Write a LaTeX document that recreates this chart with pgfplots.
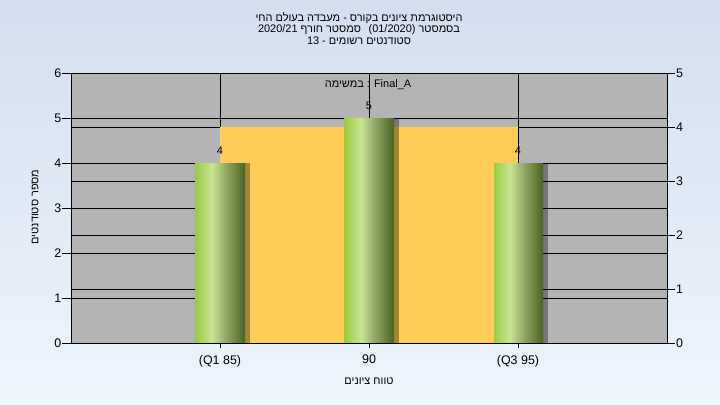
\documentclass[border=0pt]{standalone}
\usepackage{pgfplots}
\pgfplotsset{compat=1.18}
\usepackage{fontspec}
\setmainfont{Liberation Sans}
\newfontfamily\heb[Script=Hebrew]{Liberation Sans}
\TeXXeTstate=1
\definecolor{bgtop}{HTML}{D3DFF0}
\definecolor{bgbot}{HTML}{EEF5FD}
\definecolor{plotgray}{HTML}{B4B4B4}
\definecolor{boxorange}{HTML}{FFCC57}
\definecolor{gA}{HTML}{98CB3C}
\definecolor{gB}{HTML}{C8E496}
\definecolor{gC}{HTML}{8CA262}
\definecolor{gD}{HTML}{4A6424}
\pgfdeclarehorizontalshading{barshade}{50bp}{color(0bp)=(gA); color(17bp)=(gB); color(32bp)=(gC); color(50bp)=(gD)}
\newcommand{\tickfont}{\fontsize{12.5}{14}\selectfont}
\newcommand{\smallfont}{\fontsize{11}{12}\selectfont}
\pgfplotsset{greenbar/.style={ybar, bar width=50bp, bar shift=0bp, draw=none, shade, shading=barshade},
  shadowbar/.style={ybar, bar width=50bp, bar shift=5bp, fill=black, fill opacity=0.35, draw=none}}
\begin{document}
\begin{tikzpicture}
\shade[top color=bgtop, bottom color=bgbot] (0,0) rectangle (720bp,405bp);
\path[use as bounding box] (0,0) rectangle (720bp,405bp);
% main axis (left scale)
\begin{axis}[
  at={(71bp,62bp)}, anchor=south west, scale only axis,
  width=596bp, height=270bp,
  xmin=80, xmax=100, ymin=0, ymax=6,
  axis background/.style={fill=plotgray},
  xtick={85,90,95}, xticklabels={(Q1 85),90,(Q3 95)},
  ytick={0,1,2,3,4,5,6},
  extra y ticks={1.2,2.4,3.6,4.8}, extra y tick labels={},
  extra y tick style={major tick length=0pt, grid=major},
  grid=major, major grid style={black, line width=0.8pt},
  axis line style={black, line width=1pt},
  tick style={black, line width=0.8pt},
  xtick style={draw=none},
  tick align=outside, major tick length=8.5bp,
  ytick pos=left, xtick pos=bottom,
  /pgf/number format/assume math mode=true,
  yticklabel style={font=\tickfont, inner sep=1bp},
  xticklabel style={font=\tickfont},
]
\addplot[fill=boxorange, draw=none] coordinates {(85,4.8) (95,4.8)} \closedcycle;
\addplot[shadowbar] coordinates {(85,4)};
\addplot[shadowbar] coordinates {(90,5)};
\addplot[shadowbar] coordinates {(95,4)};
\addplot[greenbar] coordinates {(85,4)};
\addplot[greenbar] coordinates {(90,5)};
\addplot[greenbar] coordinates {(95,4)};
\addplot[ybar, bar width=50bp, bar shift=0bp, draw=none, fill=none,
  nodes near coords, point meta=y,
  every node near coord/.append style={font=\smallfont, text=black, yshift=4.5bp}]
  coordinates {(85,4) (90,5) (95,4)};
\end{axis}
% x tick marks
\begin{axis}[
  at={(71bp,62bp)}, anchor=south west, scale only axis,
  width=596bp, height=270bp,
  xmin=80, xmax=100, ymin=0, ymax=6,
  hide y axis, axis x line*=bottom,
  axis line style={black, line width=1pt},
  xtick={85,90,95}, xticklabels={},
  tick style={black, line width=0.8pt},
  tick align=outside, major tick length=5bp,
]
\addplot[draw=none] coordinates {(80,0)};
\end{axis}
% right scale
\begin{axis}[
  at={(71bp,62bp)}, anchor=south west, scale only axis,
  width=596bp, height=270bp,
  xmin=80, xmax=100, ymin=0, ymax=5,
  hide x axis, axis y line*=right,
  axis line style={black, line width=1pt},
  ytick={0,1,2,3,4,5},
  tick style={black, line width=0.8pt},
  tick align=outside, major tick length=8bp,
  /pgf/number format/assume math mode=true,
  yticklabel style={font=\tickfont, inner sep=1bp},
]
\addplot[draw=none] coordinates {(80,0)};
\end{axis}
% texts
\node[font=\smallfont, inner sep=0] at (359bp,387bp) {\heb\beginR היסטוגרמת ציונים בקורס - מעבדה בעולם החי\endR};
\node[font=\smallfont, inner sep=0] at (359bp,375.5bp) {\heb\beginR בסמסטר \beginL(01/2020)\endL\hspace{0.7em}סמסטר חורף \beginL 2020/21\endL\endR};
\node[font=\smallfont, inner sep=0] at (359bp,364bp) {\heb\beginR סטודנטים רשומים - \beginL 13\endL\endR};
\node[font=\smallfont, inner sep=0] at (368bp,320bp) {{\heb\beginR במשימה\endR} : Final\_A};
\node[font=\smallfont, inner sep=0] at (369bp,24bp) {\heb\beginR טווח ציונים\endR};
\node[font=\smallfont, inner sep=0, rotate=90] at (35bp,198bp) {\heb\beginR מספר סטודנטים\endR};
\end{tikzpicture}
\end{document}
